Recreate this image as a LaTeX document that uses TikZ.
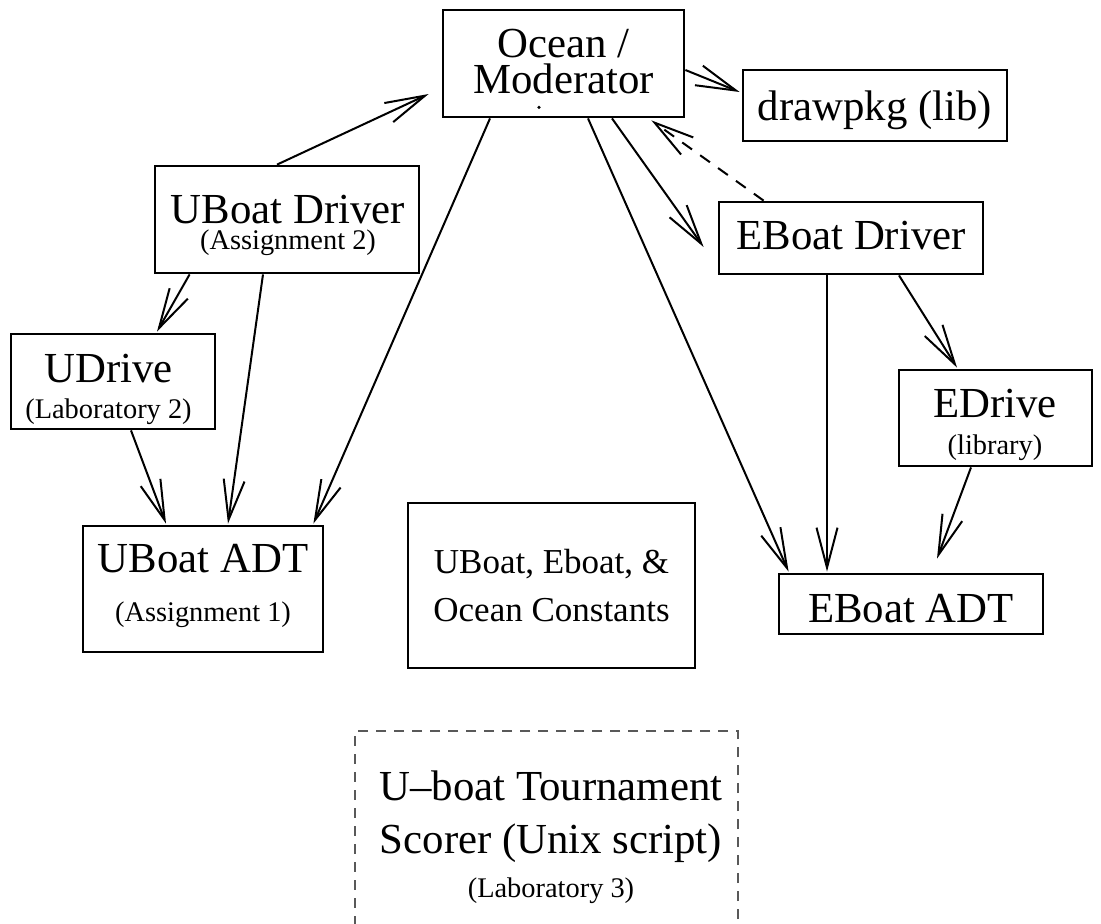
\documentclass[tikz,border=0pt]{standalone}
\usepackage{fontspec}
\setmainfont{Liberation Serif}
\usetikzlibrary{arrows.meta,calc}
\newcommand\smallsz{\fontsize{14.2}{17}\selectfont}
\begin{document}
\begin{tikzpicture}[x=0.5pt,y=-0.5pt,
  box/.style={draw,line width=1.4pt,inner sep=0pt,rectangle},
  lbl/.style={inner sep=0pt,anchor=base,align=center},
  big/.style={font=\fontsize{21.4}{#1}\selectfont},
  big/.default=24pt,
  mid/.style={font=\fontsize{17.5}{#1}\selectfont},
  mid/.default=20pt,
  arr/.style={line width=1pt,-{Straight Barb[length=20pt,width=10.5pt]}},
  dasharr/.style={arr,dash pattern=on 6pt off 5pt}]
\useasboundingbox (0,0) rectangle (1101,923);
\clip (0,0) rectangle (1101,923);
% boxes
\node[box,minimum width=120.5pt,minimum height=53.5pt] (ocean) at (563.5,63.5) {};
\node[box,minimum width=132pt,minimum height=35.5pt] (drawpkg) at (875,105.5) {};
\node[box,minimum width=132pt,minimum height=53.5pt] (ubd) at (287,219.5) {};
\node[box,minimum width=102pt,minimum height=47.5pt] (udrive) at (113,381.5) {};
\node[box,minimum width=120pt,minimum height=63pt] (uadt) at (203,589) {};
\node[box,minimum width=143.5pt,minimum height=82.5pt] (const) at (551.5,585.5) {};
\node[box,minimum width=132pt,minimum height=36pt] (ebd) at (851,238) {};
\node[box,minimum width=96.5pt,minimum height=48pt] (edrive) at (995.5,418) {};
\node[box,minimum width=132pt,minimum height=30pt] (eadt) at (911,604) {};
\node[draw=black!65,line width=0.7pt,dash pattern=on 5pt off 4pt,inner sep=0pt,
      minimum width=191.5pt,minimum height=109.5pt] (tourn) at (546.5,840.5) {};
% texts (anchored at the baseline of their last line)
\node[lbl,big=18pt] (tocean) at (563.5,93) {Ocean /\\Moderator};
\fill ($(ocean.south)+(-24.5,-11)$) circle (1.8);
\node[lbl,big] (tdraw) at (875,120) {drawpkg (lib)};
\node[lbl,big=13pt] (tubd) at (288,249) {UBoat Driver\\{\smallsz (Assignment 2)}};
\node[lbl,big=18pt] (tud) at (108.5,418) {UDrive\\{\smallsz (Laboratory 2)}};
\node[lbl,big=24.5pt] (tua) at (203,621) {UBoat ADT\\{\smallsz (Assignment 1)}};
\node[lbl,mid=24pt] (tc) at (551.5,621) {UBoat, Eboat, \&\\Ocean Constants};
\node[lbl,big] (tebd) at (851,249) {EBoat Driver};
\node[lbl,big=18.5pt] (ted) at (995,454) {EDrive\\{\smallsz (library)}};
\node[lbl,big] (tea) at (911,622) {EBoat ADT};
\node[lbl,big=26.5pt] (tt) at (551,897) {U–boat Tournament\\Scorer (Unix script)\\[-4.5pt]{\smallsz (Laboratory 3)}};
% connectors
\draw[arr] ($(ubd.north)+(-10,0)$) -- ($(ocean.west)+(-13,30.5)$);
\draw[arr] ($(ubd.south west)+(36,0)$) -- ($(udrive.north)+(44,-1)$);
\draw[arr] ($(ubd.south)+(-24,0)$) -- ($(uadt.north)+(25,-1)$);
\draw[arr] ($(udrive.south)+(18,0)$) -- ($(uadt.north)+(-37,-1)$);
\draw[arr] ($(ocean.south)+(-73.5,0)$) -- ($(uadt.north east)+(-11,-1)$);
\draw[arr] ($(ocean.south)+(24.5,0)$) -- ($(eadt.north west)+(11,-1)$);
\draw[arr] ($(ocean.south)+(48.5,0)$) -- ($(ebd.west)+(-14,9)$);
\draw[arr] ($(ocean.east)+(0,6.5)$) -- ($(drawpkg.west)+(-2,-13.5)$);
\draw[dasharr] ($(ebd.north west)+(46,0)$) -- ($(ocean.south east)+(-34,2)$);
\draw[arr] ($(ebd.south)+(-24,0)$) -- ($(eadt.north)+(-84,-1)$);
\draw[arr] ($(ebd.south)+(48,0)$) -- ($(edrive.north)+(-38.5,-1)$);
\draw[arr] ($(edrive.south)+(-24.5,0)$) -- ($(eadt.north)+(26,-14)$);
\end{tikzpicture}
\end{document}
